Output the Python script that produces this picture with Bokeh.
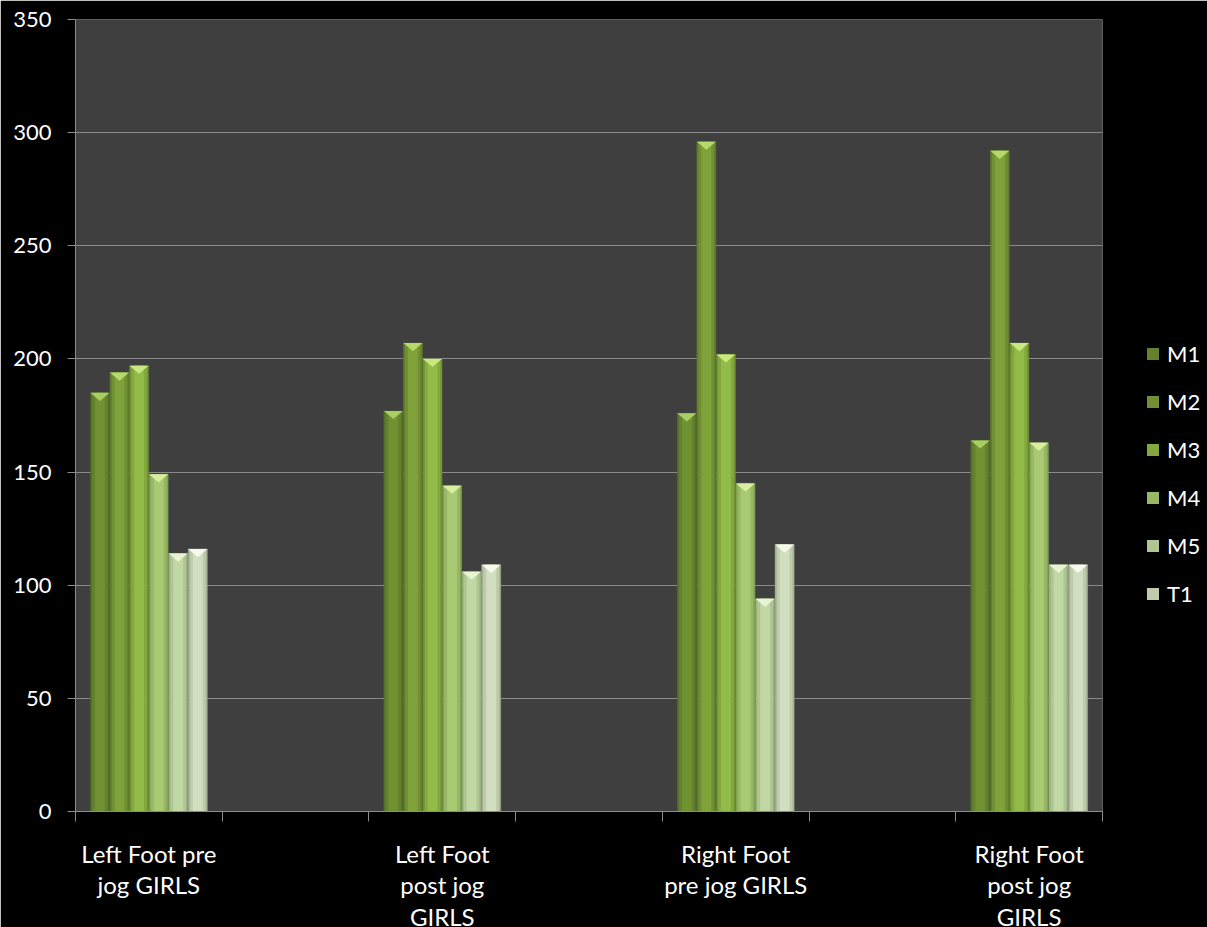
from bokeh.plotting import figure
from bokeh.models import FixedTicker, Range1d, Legend, LegendItem
from bokeh.embed import file_html
from bokeh.resources import INLINE

# ---- data ----
categories = ["Left Foot pre\njog GIRLS", "Left Foot\npost jog\nGIRLS",
              "Right Foot\npre jog GIRLS", "Right Foot\npost jog\nGIRLS"]
series = ["M1", "M2", "M3", "M4", "M5", "T1"]
M1 = [185, 177, 176, 164]
M2 = [194, 207, 296, 292]
M3 = [197, 200, 202, 207]
M4 = [149, 144, 145, 163]
M5 = [114, 106, 94, 109]
T1 = [116, 109, 118, 109]
values = [M1, M2, M3, M4, M5, T1]
y_ticks = [0, 50, 100, 150, 200, 250, 300, 350]
n_slots = 7                      # chart has blank category slots between groups
slot_index = [0, 2, 4, 6]

# ---- style ----
edge_col = ["#55702a", "#617d2d", "#719334", "#84a454", "#9bb282", "#a8b697"]
mid_col = ["#64822e", "#718f33", "#83a93e", "#97b864", "#afc693", "#bfcbaa"]
main_col = ["#719233", "#80a23a", "#93bb49", "#a9c972", "#c1d8a5", "#d2dec0"]
top_col = ["#a9cf62", "#b6d96c", "#c8e77e", "#d9ee9f", "#e8f3d2", "#f6f9ee"]
FONT = "Lato"

p = figure(output_backend="svg", toolbar_location=None,
           x_range=Range1d(0, n_slots), y_range=Range1d(0, 350),
           frame_width=1027, frame_height=792,
           min_border_left=75, min_border_right=105, min_border_top=19, min_border_bottom=116)
p.background_fill_color = "#3f3f3f"
p.border_fill_color = "#000000"
p.outline_line_color = None

group_w = 0.8
bw = group_w / len(series)
bevel = 3.6

items = []
for i, (name, vals) in enumerate(zip(series, values)):
    xs = [s + 0.5 + (i - 2.5) * bw for s in slot_index]
    p.vbar(x=xs, top=vals, width=bw * 0.97, bottom=0,
           fill_color=edge_col[i], line_color=edge_col[i], line_width=0.5)
    r = p.vbar(x=xs, top=vals, width=bw * 0.8, bottom=0,
               fill_color=mid_col[i], line_color=None)
    p.vbar(x=xs, top=vals, width=bw * 0.5, bottom=0,
           fill_color=main_col[i], line_color=None)
    tx = [[x - bw * 0.485, x + bw * 0.485, x] for x in xs]
    ty = [[v, v, v - bevel] for v in vals]
    p.patches(xs=tx, ys=ty, fill_color=top_col[i], line_color=None)
    items.append(LegendItem(label=name, renderers=[r]))

# axes
p.xaxis.ticker = FixedTicker(ticks=[s + 0.5 for s in slot_index],
                             minor_ticks=list(range(n_slots + 1)))
p.xaxis.major_label_overrides = {s + 0.5: c for s, c in zip(slot_index, categories)}
p.xaxis.major_tick_out = 0
p.xaxis.major_tick_in = 0
p.xaxis.minor_tick_out = 10
p.xaxis.minor_tick_in = 0
p.xaxis.minor_tick_line_color = "#8c8c8c"
p.xaxis.major_label_standoff = 17
p.xaxis.axis_line_color = "#8c8c8c"
p.xaxis.major_label_text_font_size = "24px"
p.xaxis.major_label_text_line_height = 1.1

p.yaxis.ticker = FixedTicker(ticks=y_ticks)
p.yaxis.major_tick_out = 8
p.yaxis.major_tick_in = 0
p.yaxis.minor_tick_line_color = None
p.yaxis.major_tick_line_color = "#8c8c8c"
p.yaxis.axis_line_color = "#8c8c8c"
p.yaxis.major_label_standoff = 16
p.yaxis.major_label_text_font_size = "22px"

for ax in (p.xaxis, p.yaxis):
    ax.major_label_text_color = "#ffffff"
    ax.major_label_text_font = FONT

p.xgrid.grid_line_color = None
p.ygrid.ticker = FixedTicker(ticks=y_ticks)
p.ygrid.grid_line_color = "#8a8a8a"
p.ygrid.grid_line_width = 1

legend = Legend(items=items, location=(43, 204), orientation="vertical",
                background_fill_alpha=0, border_line_color=None,
                padding=0, margin=0, glyph_width=15, glyph_height=15,
                label_height=20, spacing=21, label_standoff=7,
                label_text_color="#ffffff", label_text_font=FONT,
                label_text_font_size="22px")
p.add_layout(legend, "right")

open("out.html", "w").write(file_html(p, INLINE))
